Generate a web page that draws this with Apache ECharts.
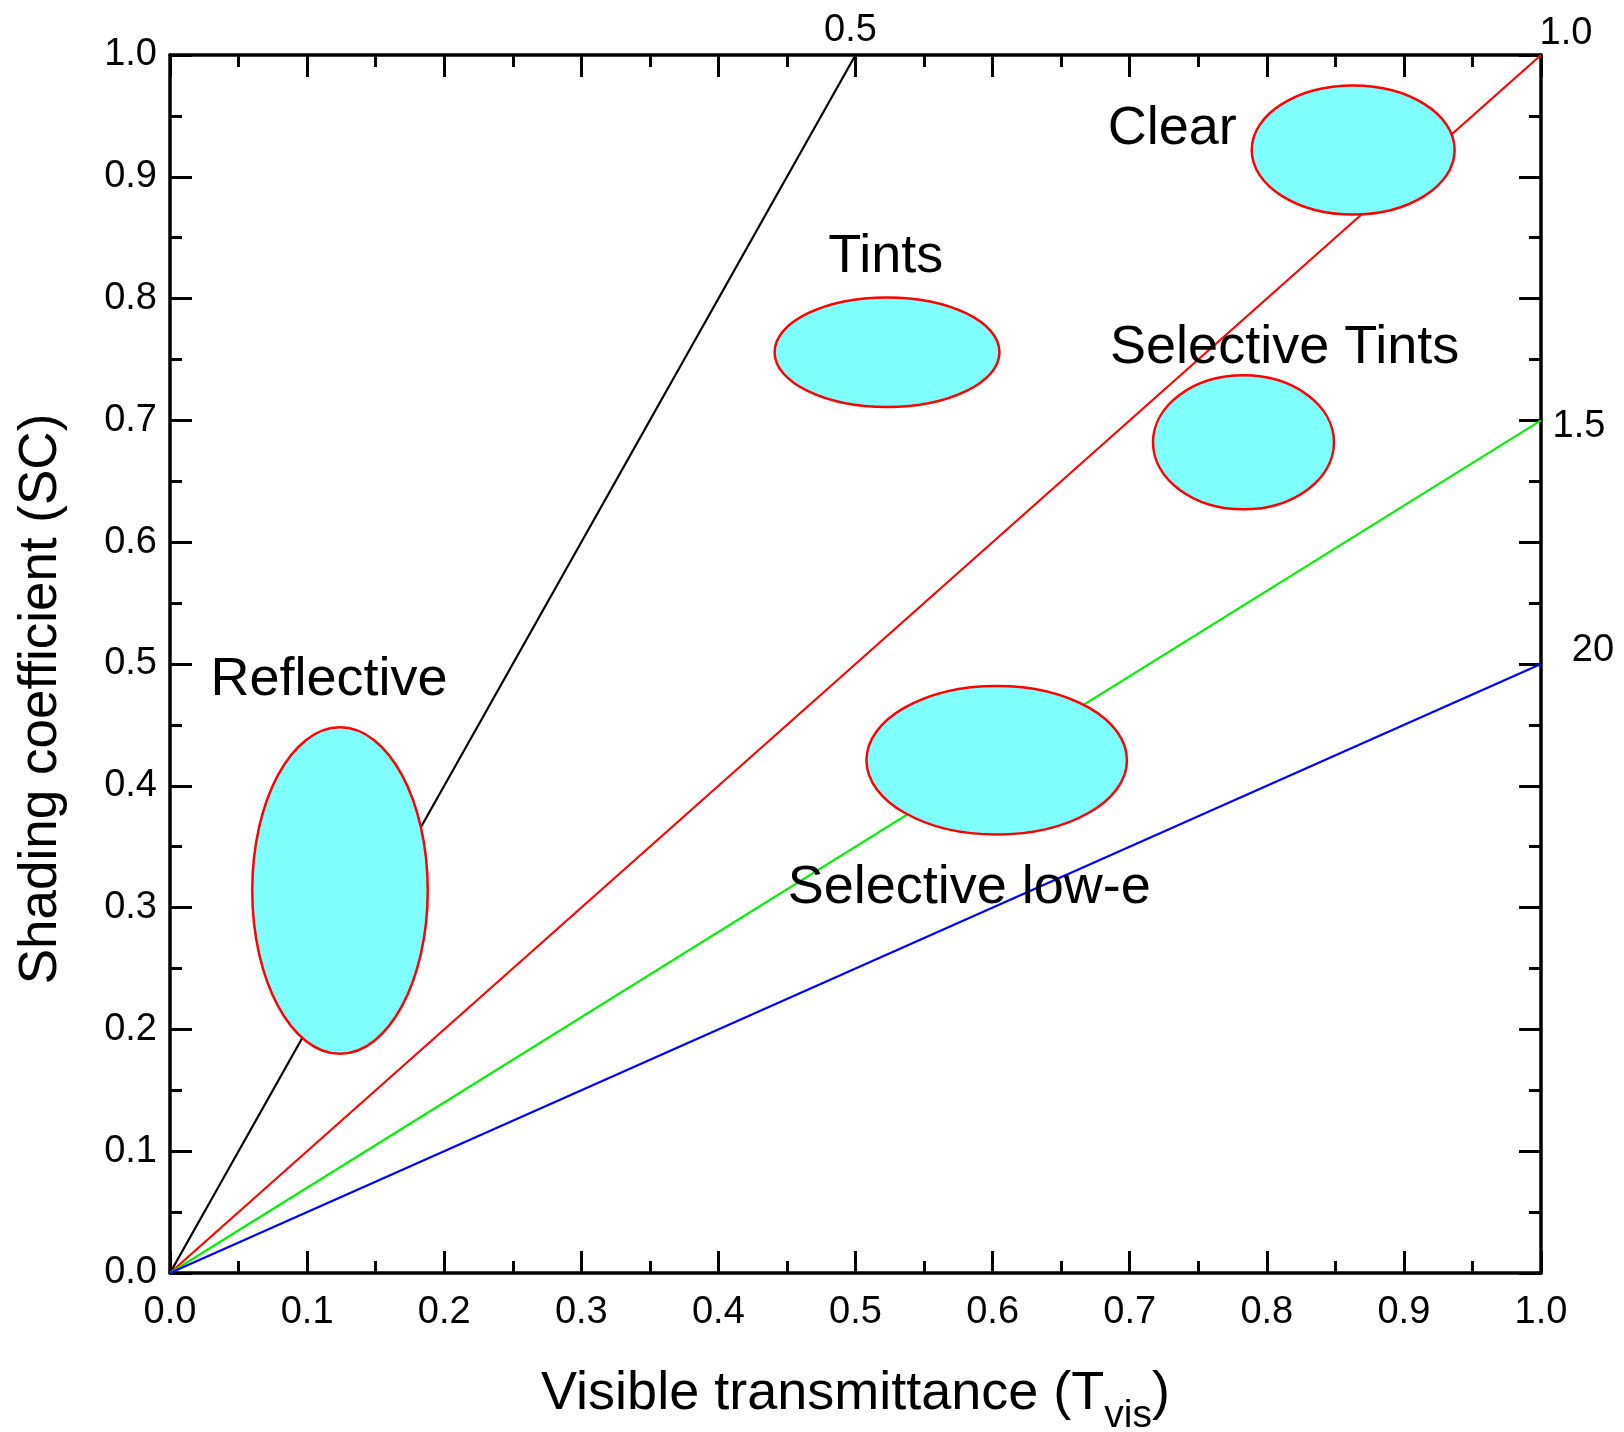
<!DOCTYPE html>
<html><head><meta charset="utf-8">
<script src="https://cdn.jsdelivr.net/npm/echarts@6/dist/echarts.min.js"></script>
<style>html,body{margin:0;padding:0;background:#fff}#c{width:1624px;height:1432px}</style>
</head><body><div id="c"></div>
<script>
// ---- data ----
const xTickLabels = ['0.0','0.1','0.2','0.3','0.4','0.5','0.6','0.7','0.8','0.9','1.0'];
const yTickLabels = ['0.0','0.1','0.2','0.3','0.4','0.5','0.6','0.7','0.8','0.9','1.0'];
const lineNames  = ['LSG 0.5','LSG 1.0','LSG 1.5','LSG 2.0'];
const lineStartX = [0, 0, 0, 0];
const lineStartY = [0, 0, 0, 0];
const lineEndX   = [0.5, 1.0, 1.0, 1.0];
const lineEndY   = [1.0, 1.0, 0.7, 0.5];
const lineLabels = ['0.5', '1.0', '1.5', '20'];
const regionNames = ['Clear', 'Tints', 'Selective Tints', 'Reflective', 'Selective low-e'];
const regionCx = [0.863, 0.523, 0.783, 0.124, 0.603];
const regionCy = [0.922, 0.756, 0.682, 0.314, 0.421];
const regionRx = [0.074, 0.082, 0.066, 0.064, 0.095];
const regionRy = [0.053, 0.045, 0.055, 0.134, 0.061];
const regionLabelX = [0.731, 0.522, 0.813, 0.116, 0.583];
const regionLabelY = [0.939, 0.834, 0.759, 0.487, 0.316];

// ---- styles ----
const FONT = "'Liberation Sans', Arial, sans-serif";
const lineColors = ['#000000', '#ff0000', '#00ee00', '#0000ff'];
const lineLabelOffsets = [[-5, -24], [25, -21], [38, 6], [52, -13]];

const axisCommon = (pos, showLabel, labels, margin) => ({
  type: 'value', min: 0, max: 1, interval: 0.1, position: pos,
  axisLine: { show: true, onZero: false, lineStyle: { color: '#000', width: 3.5 } },
  axisTick: { show: true, inside: true, length: 22, lineStyle: { color: '#000', width: 3 } },
  minorTick: { show: true, splitNumber: 2, length: 12, lineStyle: { color: '#000', width: 3 } },
  splitLine: { show: false }, minorSplitLine: { show: false },
  axisLabel: {
    show: showLabel, margin: margin, color: '#000', fontSize: 38, fontFamily: FONT,
    formatter: v => labels[Math.round(v * 10)]
  }
});

const xBottom = axisCommon('bottom', true, xTickLabels, 21);
xBottom.name = '{m|Visible transmittance (T}{s|vis}{m|)}';
xBottom.nameLocation = 'middle';
xBottom.nameGap = 94;
xBottom.nameTextStyle = {
  color: '#000', fontFamily: FONT,
  rich: {
    m: { fontSize: 54, lineHeight: 54, verticalAlign: 'top', fontFamily: FONT, color: '#000' },
    s: { fontSize: 39, lineHeight: 39, padding: [30, 0, 0, 0], verticalAlign: 'top', fontFamily: FONT, color: '#000' }
  }
};
const xTop = axisCommon('top', false, xTickLabels, 16);
const yLeft = axisCommon('left', true, yTickLabels, 13);
yLeft.name = 'Shading coefficient (SC)';
yLeft.nameLocation = 'middle';
yLeft.nameRotate = 90;
yLeft.nameGap = 102;
yLeft.nameTextStyle = { color: '#000', fontSize: 53, fontFamily: FONT, padding: [0, 70, 0, 0] };
const yRight = axisCommon('right', false, yTickLabels, 16);

const lineSeries = lineNames.map((n, i) => ({
  name: n, type: 'line', xAxisIndex: 0, yAxisIndex: 0,
  showSymbol: false, symbol: 'none', silent: true, z: 2,
  lineStyle: { color: lineColors[i], width: 2.2 },
  data: [[lineStartX[i], lineStartY[i]], [lineEndX[i], lineEndY[i]]]
}));

const textLabelStyle = (size) => ({
  show: true, position: 'inside',
  color: '#000', opacity: 1, fontSize: size, fontFamily: FONT,
  textBorderWidth: 0, textBorderColor: 'transparent', align: 'center', verticalAlign: 'middle'
});

const ratioLabelSeries = {
  type: 'scatter', xAxisIndex: 0, yAxisIndex: 0, symbolSize: 0, silent: true, z: 5,
  itemStyle: { opacity: 1, color: '#000' },
  data: lineLabels.map((t, i) => ({
    value: [lineEndX[i], lineEndY[i], t],
    label: { offset: lineLabelOffsets[i] }
  })),
  label: Object.assign(textLabelStyle(38), { formatter: p => p.data.value[2] })
};

const ellipseSeries = {
  type: 'custom', xAxisIndex: 0, yAxisIndex: 0, silent: true, z: 3,
  data: regionNames.map((n, i) => [regionCx[i], regionCy[i], regionRx[i], regionRy[i]]),
  renderItem: (params, api) => {
    const c = api.coord([api.value(0), api.value(1)]);
    const s = api.size([api.value(2), api.value(3)]);
    return {
      type: 'ellipse',
      shape: { cx: c[0], cy: c[1], rx: s[0], ry: s[1] },
      style: { fill: '#80ffff', stroke: '#ff0000', lineWidth: 2.5 }
    };
  }
};

const regionLabelSeries = {
  type: 'scatter', xAxisIndex: 0, yAxisIndex: 0, symbolSize: 0, silent: true, z: 6,
  itemStyle: { opacity: 1, color: '#000' },
  data: regionNames.map((n, i) => [regionLabelX[i], regionLabelY[i], n]),
  label: Object.assign(textLabelStyle(54), { formatter: p => p.data[2] })
};

const chart = echarts.init(document.getElementById('c'), null, { renderer: 'canvas' });
chart.setOption({
  animation: false,
  backgroundColor: '#fff',
  grid: { left: 170, top: 55, width: 1371, height: 1218, containLabel: false, outerBoundsMode: 'none' },
  xAxis: [xBottom, xTop],
  yAxis: [yLeft, yRight],
  series: [...lineSeries, ellipseSeries, ratioLabelSeries, regionLabelSeries]
});
</script></body></html>
